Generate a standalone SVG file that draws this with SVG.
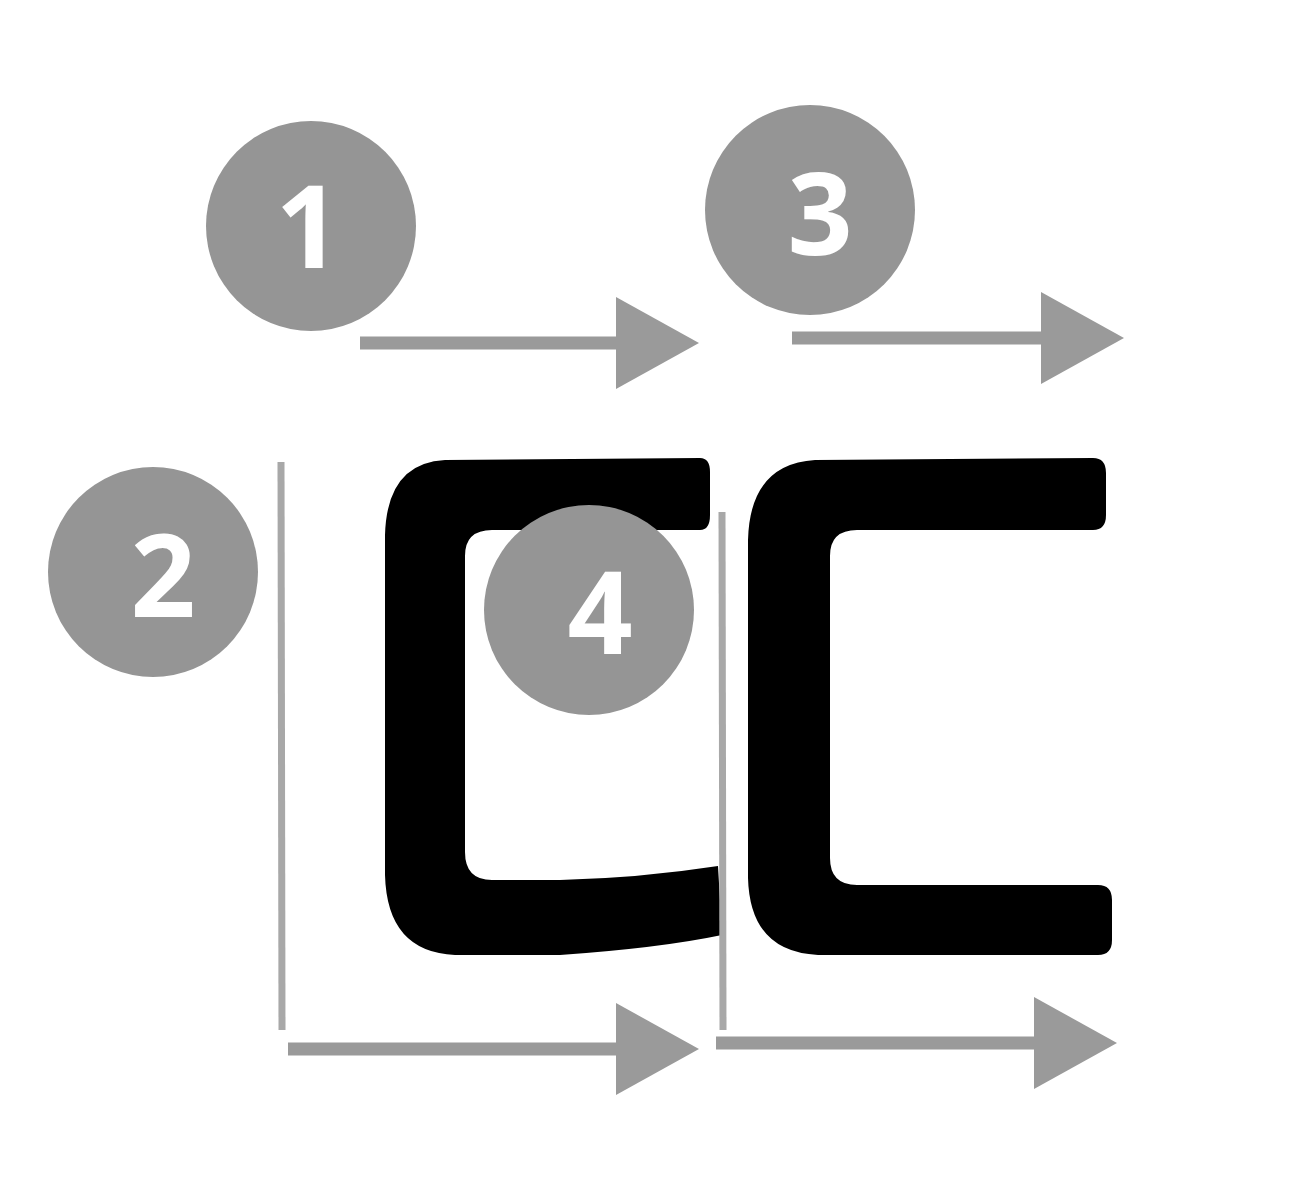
<svg xmlns="http://www.w3.org/2000/svg" width="1293" height="1200" viewBox="0 0 1293 1200">
<style>
.stroke{fill:#000}
.badge circle{fill:#959595}
.badge text{fill:#fff;font-family:"Open Sans","Noto Sans","Liberation Sans",sans-serif;font-weight:700;font-size:114px;text-anchor:middle}
.arr{fill:none;stroke:#9a9a9a;stroke-width:13;marker-end:url(#tri)}
.guide{fill:none;stroke:#a8a8a8;stroke-width:7}
</style>
<defs>
<marker id="tri" markerUnits="userSpaceOnUse" markerWidth="84" markerHeight="94" refX="4" refY="47" orient="auto">
<path d="M0 1 L83 47 L0 93 Z" fill="#9a9a9a"/>
</marker>
</defs>
<rect width="1293" height="1200" fill="#fff"/>
<g id="strokes">
<path class="stroke" d="M700 458 L445 460 Q387 463 385 535 L385 875 Q387 952 455 955 L560 955 Q660 948 722 935 L718 866 Q640 878 560 880 L492 880 Q465 880 465 852 L465 556 Q465 530 492 530 L700 530 Q710 530 710 515 L710 472 Q710 458 700 458 Z"/>
<path class="stroke" d="M1093 458 L815 460 Q750 464 748 540 L748 878 Q750 952 818 955 L1098 955 Q1112 955 1112 940 L1112 900 Q1112 885 1098 885 L857 885 Q830 885 830 858 L830 556 Q830 530 857 530 L1093 530 Q1106 530 1106 515 L1106 473 Q1106 458 1093 458 Z"/>
</g>
<g id="connectors">
<path class="arr" d="M360 343 L620 343"/>
<path class="arr" d="M792 338 L1045 338"/>
<path class="guide" d="M281 462 L282 1030"/>
<path class="arr" d="M288 1049 L620 1049"/>
<path class="guide" d="M722 512 L723 1030"/>
<path class="arr" d="M716 1043 L1038 1043"/>
</g>
<g id="n1" class="badge"><circle cx="311" cy="226" r="105"/><text x="308" y="268">1</text></g>
<g id="n2" class="badge"><circle cx="153" cy="572" r="105"/><text x="163" y="617">2</text></g>
<g id="n3" class="badge"><circle cx="810" cy="210" r="105"/><text x="820" y="255">3</text></g>
<g id="n4" class="badge"><circle cx="589" cy="610" r="105"/><text x="600" y="654">4</text></g>
</svg>
